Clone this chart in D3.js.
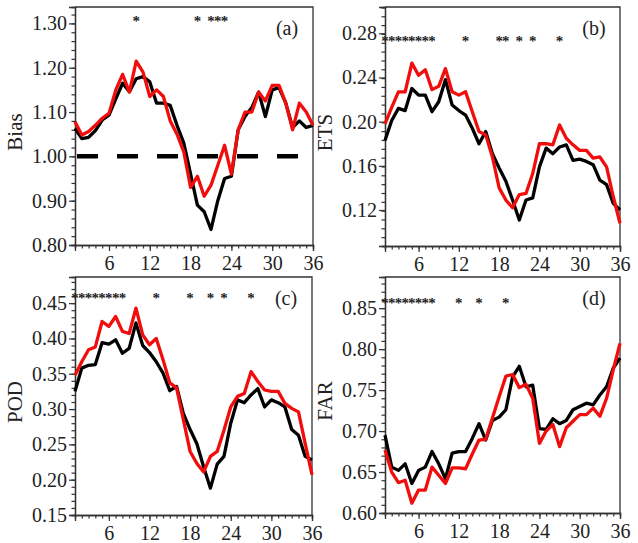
<!DOCTYPE html>
<html>
<head>
<meta charset="utf-8">
<script src="https://cdn.jsdelivr.net/npm/d3@7"></script>
<style>
  body { margin: 0; background: #fff; }
  svg text { font-family: "Liberation Serif"; fill: #222; }
</style>
</head>
<body>
<svg id="chart" width="638" height="543"></svg>
<script>
// lead time (hours) 1..36
const leads = d3.range(1, 37)
const xTicks = [6, 12, 18, 24, 30, 36]

// (a) Bias
const biasBlack = [1.063, 1.040, 1.043, 1.058, 1.082, 1.093, 1.130, 1.165, 1.146, 1.175, 1.180, 1.168, 1.120, 1.120, 1.115, 1.070,
  1.030, 0.960, 0.890, 0.875, 0.835, 0.900, 0.950, 0.955, 1.060, 1.090, 1.110, 1.145, 1.090, 1.150, 1.155, 1.120, 1.065, 1.080, 1.065, 1.070]
const biasRed = [1.078, 1.048, 1.056, 1.070, 1.086, 1.097, 1.150, 1.185, 1.145, 1.215, 1.190, 1.135, 1.150, 1.135, 1.080, 1.050,
  1.010, 0.930, 0.955, 0.910, 0.935, 0.980, 1.025, 0.960, 1.060, 1.100, 1.100, 1.145, 1.125, 1.160, 1.160, 1.120, 1.060, 1.120, 1.100, 1.070]
const biasStars = [10, 19, 21, 22, 23]
const biasTicks = [0.80, 0.90, 1.00, 1.10, 1.20, 1.30]

// (b) ETS
const etsBlack = [0.183, 0.201, 0.212, 0.210, 0.230, 0.224, 0.224, 0.209, 0.218, 0.238, 0.215, 0.210, 0.206, 0.194, 0.180, 0.191,
  0.171, 0.158, 0.146, 0.129, 0.111, 0.129, 0.131, 0.159, 0.176, 0.171, 0.177, 0.179, 0.165, 0.166, 0.164, 0.161, 0.147, 0.143, 0.126, 0.120]
const etsRed = [0.198, 0.213, 0.227, 0.227, 0.253, 0.242, 0.247, 0.229, 0.232, 0.248, 0.227, 0.224, 0.227, 0.209, 0.191, 0.188,
  0.168, 0.140, 0.129, 0.122, 0.134, 0.135, 0.153, 0.180, 0.180, 0.179, 0.197, 0.185, 0.179, 0.174, 0.174, 0.167, 0.168, 0.159, 0.132, 0.108]
const etsStars = [1, 2, 3, 4, 5, 6, 7, 8, 13, 18, 19, 21, 23, 27]
const etsTicks = [0.12, 0.16, 0.20, 0.24, 0.28]

// (c) POD
const podBlack = [0.325, 0.358, 0.362, 0.363, 0.394, 0.392, 0.398, 0.379, 0.386, 0.422, 0.390, 0.380, 0.367, 0.351, 0.326, 0.332,
  0.294, 0.271, 0.251, 0.218, 0.188, 0.222, 0.233, 0.280, 0.313, 0.309, 0.320, 0.329, 0.303, 0.313, 0.309, 0.303, 0.271, 0.263, 0.233, 0.228]
const podRed = [0.348, 0.367, 0.384, 0.388, 0.424, 0.417, 0.431, 0.410, 0.407, 0.443, 0.405, 0.391, 0.400, 0.370, 0.337, 0.330,
  0.285, 0.240, 0.223, 0.211, 0.233, 0.240, 0.270, 0.303, 0.318, 0.322, 0.353, 0.339, 0.327, 0.325, 0.325, 0.308, 0.301, 0.296, 0.251, 0.207]
const podStars = [1, 2, 3, 4, 5, 6, 7, 8, 13, 18, 21, 23, 27]
const podTicks = [0.15, 0.20, 0.25, 0.30, 0.35, 0.40, 0.45]

// (d) FAR
const farBlack = [0.695, 0.656, 0.652, 0.660, 0.636, 0.652, 0.656, 0.675, 0.660, 0.642, 0.673, 0.675, 0.675, 0.691, 0.709, 0.689,
  0.713, 0.717, 0.726, 0.766, 0.779, 0.754, 0.756, 0.703, 0.702, 0.715, 0.709, 0.713, 0.726, 0.730, 0.734, 0.732, 0.744, 0.754, 0.777, 0.789]
const farRed = [0.677, 0.650, 0.637, 0.640, 0.612, 0.628, 0.628, 0.656, 0.646, 0.636, 0.655, 0.655, 0.654, 0.672, 0.689, 0.690,
  0.716, 0.742, 0.767, 0.769, 0.753, 0.757, 0.740, 0.685, 0.700, 0.708, 0.681, 0.704, 0.712, 0.720, 0.720, 0.728, 0.718, 0.740, 0.775, 0.807]
const farStars = [1, 2, 3, 4, 5, 6, 7, 8, 12, 15, 19]
const farTicks = [0.60, 0.65, 0.70, 0.75, 0.80, 0.85]

const FONT = "Liberation Serif"

const panels = [
  { tag: "(a)", title: "Bias", black: biasBlack, red: biasRed, stars: biasStars, ticks: biasTicks,
    box: { left: 75, top: 7, right: 313, bottom: 245 }, domain: [0.80, 1.337], minor: 0.02, starY: 20, ref: 1.0 },
  { tag: "(b)", title: "ETS", black: etsBlack, red: etsRed, stars: etsStars, ticks: etsTicks,
    box: { left: 385, top: 7, right: 620, bottom: 246 }, domain: [0.0874, 0.3038], minor: 0.008, starY: 40 },
  { tag: "(c)", title: "POD", black: podBlack, red: podRed, stars: podStars, ticks: podTicks,
    box: { left: 75, top: 277, right: 312, bottom: 515 }, domain: [0.15, 0.487], minor: 0.01, starY: 297 },
  { tag: "(d)", title: "FAR", black: farBlack, red: farRed, stars: farStars, ticks: farTicks,
    box: { left: 385, top: 277, right: 620, bottom: 513 }, domain: [0.60, 0.888], minor: 0.01, starY: 302 }
]

const svg = d3.select("#chart")

panels.forEach(p => drawPanel(svg, p))

function drawPanel(svg, p) {
  const b = p.box
  const x = d3.scaleLinear().domain([1, 36]).range([b.left, b.right])
  const y = d3.scaleLinear().domain(p.domain).range([b.bottom, b.top])

  const g = svg.append("g")

  // frame (top + right)
  g.append("path")
    .attr("d", `M${b.left},${b.top}H${b.right}V${b.bottom}`)
    .attr("fill", "none")
    .attr("stroke", "#333")
    .attr("stroke-width", 1.3)

  // y axis with minor ticks
  const minorY = d3.range(p.domain[0], p.domain[1] + 1e-9, p.minor)
  g.append("g")
    .attr("transform", `translate(${b.left},0)`)
    .call(d3.axisLeft(y).tickValues(minorY).tickSize(3.5).tickFormat(""))
    .call(styleAxis)
  g.append("g")
    .attr("transform", `translate(${b.left},0)`)
    .call(d3.axisLeft(y).tickValues(p.ticks).tickSize(6).tickPadding(2).tickFormat(d3.format(".2f")))
    .call(styleAxis)

  // x axis with minor ticks
  g.append("g")
    .attr("transform", `translate(0,${b.bottom})`)
    .call(d3.axisBottom(x).tickValues(leads).tickSize(3.5).tickFormat(""))
    .call(styleAxis)
  g.append("g")
    .attr("transform", `translate(0,${b.bottom})`)
    .call(d3.axisBottom(x).tickValues(xTicks).tickSize(6).tickPadding(5))
    .call(styleAxis)

  // y title
  g.append("text")
    .attr("transform", `translate(${b.left - 53},${(b.top + b.bottom) / 2 + 6}) rotate(-90)`)
    .attr("text-anchor", "middle")
    .attr("font-family", FONT)
    .attr("font-size", 21)
    .text(p.title)

  // panel tag
  g.append("text")
    .attr("x", b.right - 26)
    .attr("y", b.top + 28)
    .attr("text-anchor", "middle")
    .attr("font-family", FONT)
    .attr("font-size", 20)
    .text(p.tag)

  // reference line at bias = 1
  if (p.ref !== undefined) {
    g.append("line")
      .attr("x1", x(1) + 2)
      .attr("x2", x(34.5))
      .attr("y1", y(p.ref))
      .attr("y2", y(p.ref))
      .attr("stroke", "#000")
      .attr("stroke-width", 4.5)
      .attr("stroke-dasharray", "21,19")
  }

  // significance stars
  g.append("g")
    .selectAll("text")
    .data(p.stars)
    .enter().append("text")
    .attr("x", d => x(d))
    .attr("y", p.starY + 6)
    .attr("text-anchor", "middle")
    .attr("font-family", FONT)
    .attr("font-size", 15)
    .attr("font-weight", "bold")
    .attr("fill", "#111")
    .text("*")

  const line = d3.line()
    .x((d, i) => x(leads[i]))
    .y(d => y(d))

  g.append("path")
    .datum(p.black)
    .attr("d", line)
    .attr("fill", "none")
    .attr("stroke", "#000")
    .attr("stroke-width", 3.3)
    .attr("stroke-linejoin", "round")

  g.append("path")
    .datum(p.red)
    .attr("d", line)
    .attr("fill", "none")
    .attr("stroke", "#f20d0d")
    .attr("stroke-width", 3.3)
    .attr("stroke-linejoin", "round")
}

function styleAxis(ax) {
  ax.attr("font-family", FONT).attr("font-size", 20)
  ax.select(".domain").attr("stroke", "#333").attr("stroke-width", 1.3)
  ax.selectAll(".tick line").attr("stroke", "#333").attr("stroke-width", 1.2)
  ax.selectAll(".tick text").attr("fill", "#222")
}
</script>
</body>
</html>
